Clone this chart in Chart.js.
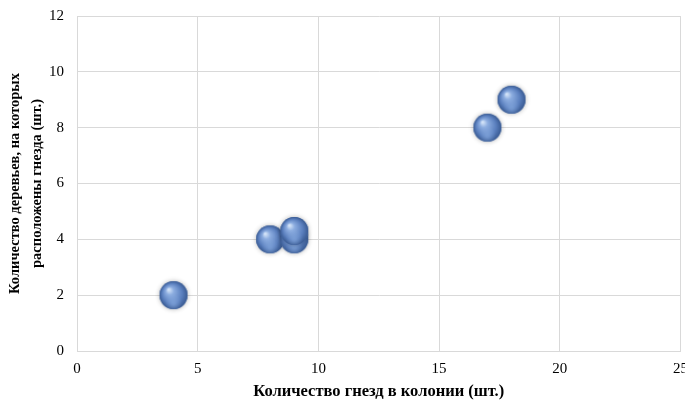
<!DOCTYPE html>
<html>
<head>
<meta charset="utf-8">
<script src="https://cdn.jsdelivr.net/npm/chart.js@4/dist/chart.umd.min.js"></script>
<style>
  html, body { margin: 0; padding: 0; background: #fff; }
  #wrap { width: 685px; height: 402px; position: relative; overflow: hidden; }
  #c { position: absolute; left: 0; top: -6px; }
</style>
</head>
<body>
<div id="wrap"><canvas id="c" width="697" height="408"></canvas></div>
<script>
// Colony size vs. number of trees carrying nests
const nestsInColony = [4, 8, 9, 9, 17, 18];
const treesWithNests = [2, 4, 4, 4.3, 8, 9];
const xTicks = [0, 5, 10, 15, 20, 25];
const yTicks = [0, 2, 4, 6, 8, 10, 12];

const xTitle = 'Количество гнезд в колонии (шт.)';
const yTitle = ['Количество деревьев, на которых', 'расположены гнезда (шт.)'];

// Shaded sphere used as the marker
function makeSphere(r) {
  const pad = 5;
  const size = (r + pad) * 2;
  const cv = document.createElement('canvas');
  cv.width = size; cv.height = size;
  const g = cv.getContext('2d');
  const c = size / 2;
  // soft halo
  g.save();
  g.shadowColor = 'rgba(0,0,0,0.3)';
  g.shadowBlur = 5;
  g.beginPath(); g.arc(c, c, r, 0, Math.PI * 2);
  g.fillStyle = '#4a72b0'; g.fill();
  g.restore();
  const grad = g.createRadialGradient(c - r * 0.35, c - r * 0.4, r * 0.05, c, c, r);
  grad.addColorStop(0, '#d3e3f8');
  grad.addColorStop(0.25, '#8cade0');
  grad.addColorStop(0.7, '#5a7fbe');
  grad.addColorStop(1, '#3a5b93');
  g.beginPath(); g.arc(c, c, r, 0, Math.PI * 2);
  g.fillStyle = grad; g.fill();
  // lower rim reflection
  const rim = g.createRadialGradient(c, c + r * 0.6, r * 0.1, c, c + r * 0.5, r * 0.6);
  rim.addColorStop(0, 'rgba(150,185,235,0.45)');
  rim.addColorStop(1, 'rgba(150,185,235,0)');
  g.beginPath(); g.arc(c, c, r, 0, Math.PI * 2);
  g.fillStyle = rim; g.fill();
  return cv;
}
const sphere = makeSphere(14);

const gridColor = '#d9d9d9';
const tickFont = { family: 'Liberation Serif', size: 15 };

new Chart(document.getElementById('c'), {
  type: 'scatter',
  data: {
    datasets: [{
      data: nestsInColony.map((x, i) => ({ x: x, y: treesWithNests[i] })),
      pointStyle: sphere,
      pointRadius: 14,
      pointHoverRadius: 14
    }]
  },
  options: {
    responsive: false,
    animation: false,
    layout: { padding: { top: 6, right: 0, left: 0, bottom: 0 } },
    plugins: { legend: { display: false }, tooltip: { enabled: false } },
    scales: {
      x: {
        type: 'linear',
        min: 0, max: 25,
        afterBuildTicks: s => { s.ticks = xTicks.map(v => ({ value: v })); },
        afterFit: s => { s.height = 51; },
        grid: { color: gridColor, drawTicks: false },
        border: { color: gridColor },
        ticks: { font: tickFont, color: '#000', padding: 9 },
        title: { display: true, text: xTitle, color: '#000',
                 font: { family: 'Liberation Serif', size: 16.5, weight: 'bold' },
                 padding: { top: 4, bottom: 0 } }
      },
      y: {
        type: 'linear',
        min: 0, max: 12,
        afterBuildTicks: s => { s.ticks = yTicks.map(v => ({ value: v })); },
        afterFit: s => { s.width = 77; },
        grid: { color: gridColor, drawTicks: false },
        border: { color: gridColor },
        ticks: { font: tickFont, color: '#000', padding: 13 },
        title: { display: true, text: yTitle, color: '#000',
                 font: { family: 'Liberation Serif', size: 14.5, weight: 'bold', lineHeight: 1.55 },
                 padding: { top: 4, bottom: 6 } }
      }
    }
  }
});
</script>
</body>
</html>
